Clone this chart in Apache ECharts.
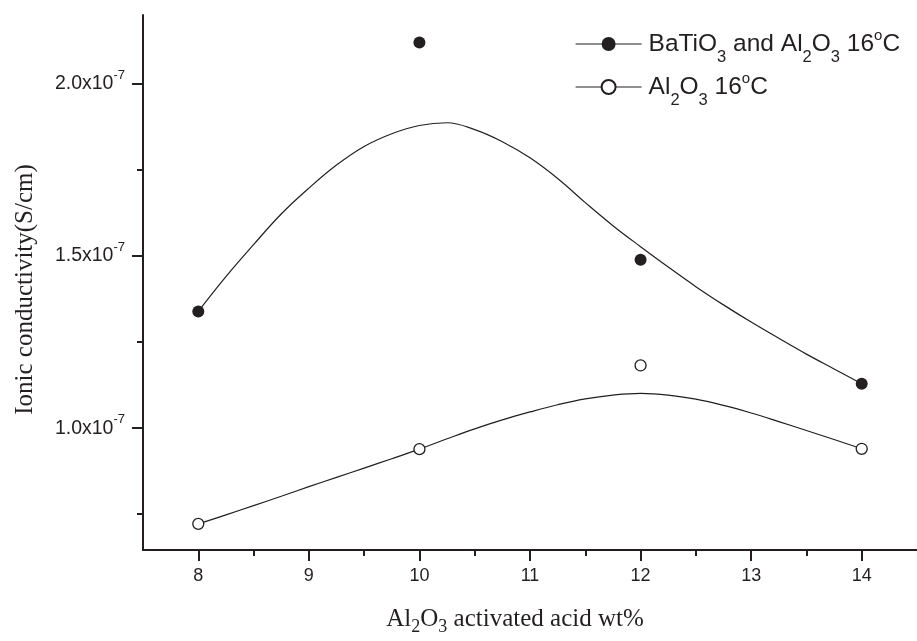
<!DOCTYPE html>
<html>
<head>
<meta charset="utf-8">
<script src="https://cdn.jsdelivr.net/npm/echarts@6/dist/echarts.min.js"></script>
<style>
  html, body { margin: 0; padding: 0; background: #ffffff; }
  #chart { width: 917px; height: 641px; }
</style>
</head>
<body>
<div id="chart"></div>
<script>
// Ionic conductivity values are given in units of 1e-7 S/cm.
const wtPercent = [8, 10, 12, 14];
const batioAl2o3 = [1.339, 2.120, 1.489, 1.129];
const al2o3 = [0.722, 0.939, 1.182, 0.940];

// Fitted trend curves, sampled along the x axis.
const fitX = [8, 8.25, 8.5, 8.75, 9, 9.25, 9.5, 9.75, 10, 10.25, 10.5, 10.75, 11,
              11.25, 11.5, 11.75, 12, 12.25, 12.5, 12.75, 13, 13.25, 13.5, 13.75, 14];
const batioFit = [1.339, 1.440, 1.533, 1.622, 1.697, 1.764, 1.818, 1.855, 1.879, 1.887, 1.867, 1.832, 1.785,
                  1.725, 1.655, 1.588, 1.527, 1.468, 1.411, 1.358, 1.308, 1.261, 1.215, 1.172, 1.129];
const al2o3Fit = [0.722, 0.748, 0.775, 0.802, 0.830, 0.857, 0.884, 0.911, 0.939, 0.969, 0.998, 1.024, 1.047,
                  1.068, 1.085, 1.096, 1.101, 1.096, 1.084, 1.066, 1.044, 1.019, 0.993, 0.967, 0.940];

// Tick positions.
const xMajorTicks = [8, 9, 10, 11, 12, 13, 14];
const xMinorTicks = [8.5, 9.5, 10.5, 11.5, 12.5, 13.5];
const yMajorTicks = [1.0, 1.5, 2.0];
const yMinorTicks = [0.75, 1.25, 1.75];

const seriesNames = ['BaTiO3 and Al2O3 16°C', 'Al2O3 16°C'];
const legendLabels = {
  'BaTiO3 and Al2O3 16°C': 'BaTiO{sub|3} and Al{sub|2}O{sub|3} 16{sup|o}C',
  'Al2O3 16°C': 'Al{sub|2}O{sub|3} 16{sup|o}C'
};

const INK = '#231f20';
const SANS = '"Liberation Sans", Arial, sans-serif';
const SERIF = '"Liberation Serif", "Times New Roman", serif';

const X_MIN = 7.5, X_MAX = 14.5;
const Y_MIN = 0.646, Y_MAX = 2.2;

const pairs = (xs, ys) => xs.map((x, i) => [x, ys[i]]);

const chart = echarts.init(document.getElementById('chart'), null, { renderer: 'canvas' });

chart.setOption({
  animation: false,
  backgroundColor: '#ffffff',
  grid: { left: 143, right: -2, top: 15, bottom: 82, containLabel: false },
  legend: {
    data: seriesNames,
    orient: 'vertical',
    left: 570,
    top: 23,
    padding: 5,
    itemWidth: 66,
    itemHeight: 17.5,
    itemGap: 5,
    formatter: name => legendLabels[name],
    lineStyle: { color: INK, width: 1.2, opacity: 1 },
    textStyle: {
      fontFamily: SANS,
      fontSize: 24.5,
      color: INK,
      padding: [0, 0, 0, 2],
      rich: {
        sub: { fontFamily: SANS, fontSize: 16.5, color: INK, padding: [27, 0, 0, 0] },
        sup: { fontFamily: SANS, fontSize: 15, color: INK, padding: [0, 0, 17, 0] }
      }
    }
  },
  xAxis: [
    {
      type: 'value',
      min: X_MIN,
      max: X_MAX,
      position: 'bottom',
      axisLine: { onZero: false, lineStyle: { color: INK, width: 2 } },
      axisTick: { customValues: xMajorTicks, length: 11, lineStyle: { color: INK, width: 2 } },
      axisLabel: { customValues: xMajorTicks, margin: 17, fontSize: 18, fontFamily: SANS, color: INK },
      splitLine: { show: false },
      name: 'Al{sub|2}O{sub|3} activated acid wt%',
      nameLocation: 'middle',
      nameGap: 52,
      nameTextStyle: {
        fontFamily: SERIF,
        fontSize: 25,
        color: INK,
        padding: [0, 30, 0, 0],
        rich: {
          sub: { fontFamily: SERIF, fontSize: 18, color: INK, padding: [16, 0, 0, 0] }
        }
      }
    },
    {
      type: 'value',
      min: X_MIN,
      max: X_MAX,
      position: 'bottom',
      axisLine: { show: false, onZero: false },
      axisTick: { customValues: xMinorTicks, length: 6, lineStyle: { color: INK, width: 2 } },
      axisLabel: { show: false },
      splitLine: { show: false }
    }
  ],
  yAxis: [
    {
      type: 'value',
      min: Y_MIN,
      max: Y_MAX,
      position: 'left',
      axisLine: { show: true, onZero: false, lineStyle: { color: INK, width: 2 } },
      axisTick: { show: true, customValues: yMajorTicks, length: 11, lineStyle: { color: INK, width: 2 } },
      axisLabel: {
        customValues: yMajorTicks,
        margin: 18,
        fontSize: 19.5,
        fontFamily: SANS,
        color: INK,
        formatter: v => v.toFixed(1) + 'x10{sup|-7}',
        rich: {
          sup: { fontFamily: SANS, fontSize: 13, color: INK, padding: [0, 0, 17, 0] }
        }
      },
      splitLine: { show: false },
      name: 'Ionic conductivity(S/cm)',
      nameLocation: 'middle',
      nameGap: 105,
      nameTextStyle: { fontFamily: SERIF, fontSize: 25, color: INK, padding: [0, 14, 0, 0] }
    },
    {
      type: 'value',
      min: Y_MIN,
      max: Y_MAX,
      position: 'left',
      axisLine: { show: false, onZero: false },
      axisTick: { show: true, customValues: yMinorTicks, length: 6, lineStyle: { color: INK, width: 2 } },
      axisLabel: { show: false },
      splitLine: { show: false }
    }
  ],
  series: [
    {
      name: 'BaTiO3 fit',
      type: 'line',
      xAxisIndex: 0,
      yAxisIndex: 0,
      data: pairs(fitX, batioFit),
      smooth: 0.4,
      symbol: 'none',
      lineStyle: { color: INK, width: 1.2 },
      z: 2
    },
    {
      name: 'Al2O3 fit',
      type: 'line',
      xAxisIndex: 0,
      yAxisIndex: 0,
      data: pairs(fitX, al2o3Fit),
      smooth: 0.4,
      symbol: 'none',
      lineStyle: { color: INK, width: 1.2 },
      z: 2
    },
    {
      name: seriesNames[0],
      type: 'line',
      xAxisIndex: 0,
      yAxisIndex: 0,
      data: pairs(wtPercent, batioAl2o3),
      symbol: 'circle',
      symbolSize: 12,
      showAllSymbol: true,
      itemStyle: { color: INK, borderColor: INK, borderWidth: 0 },
      lineStyle: { color: INK, opacity: 0 },
      z: 3
    },
    {
      name: seriesNames[1],
      type: 'line',
      xAxisIndex: 0,
      yAxisIndex: 0,
      data: pairs(wtPercent, al2o3),
      symbol: 'circle',
      symbolSize: 11,
      showAllSymbol: true,
      itemStyle: { color: '#ffffff', borderColor: INK, borderWidth: 1.3 },
      lineStyle: { color: INK, opacity: 0 },
      z: 3
    }
  ]
});
</script>
</body>
</html>
